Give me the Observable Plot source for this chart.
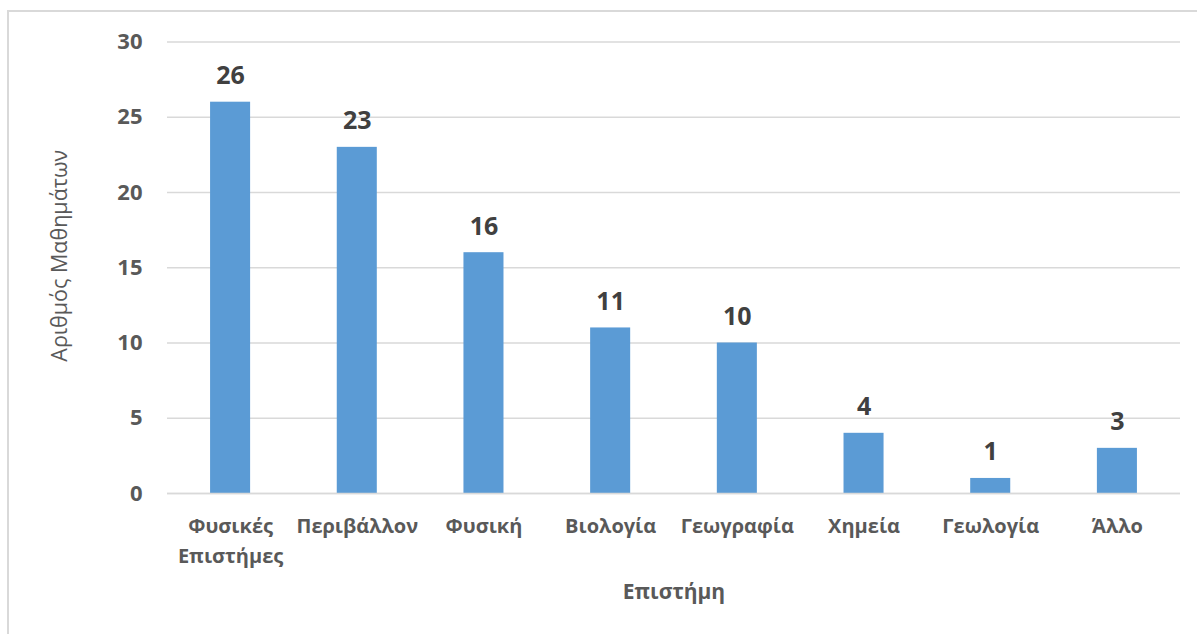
<!DOCTYPE html>
<html>
<head>
<meta charset="utf-8">
<script src="https://cdn.jsdelivr.net/npm/d3@7"></script>
<script src="https://cdn.jsdelivr.net/npm/@observablehq/plot@0.6"></script>
<style>
  html, body { margin: 0; padding: 0; background: #fff; width: 1197px; height: 634px; overflow: hidden; }
  #frame { position: absolute; left: 7px; top: 10px; width: 1200px; height: 640px; border-left: 2px solid #d9d9d9; border-top: 2px solid #d9d9d9; }
  #chart { position: absolute; left: 0; top: 0; }
  svg { font-family: "Open Sans", sans-serif; }
</style>
</head>
<body>
<div id="frame"></div>
<div id="chart"></div>
<script>
const categories = ["Φυσικές\nΕπιστήμες", "Περιβάλλον", "Φυσική", "Βιολογία", "Γεωγραφία", "Χημεία", "Γεωλογία", "Άλλο"];
const values = [26, 23, 16, 11, 10, 4, 1, 3];
const yTicks = [0, 5, 10, 15, 20, 25, 30];
const xTitle = "Επιστήμη";
const yTitle = "Αριθμός Μαθημάτων";

const data = categories.map((c, i) => ({category: c, value: values[i]}));

const chart = Plot.plot({
  width: 1197,
  height: 634,
  marginLeft: 167,
  marginRight: 17,
  marginTop: 41.5,
  marginBottom: 141,
  style: {background: "transparent", overflow: "visible"},
  x: {domain: categories, paddingInner: 0.684, paddingOuter: 0.34, round: false, label: null},
  y: {domain: [0, 30], label: null},
  marks: [
    Plot.gridY(yTicks, {stroke: "#d9d9d9", strokeOpacity: 1, strokeWidth: 1.5}),
    Plot.barY(data, {x: "category", y: "value", fill: "#5b9bd5"}),
    Plot.ruleY([0], {stroke: "#d9d9d9", strokeWidth: 1.5}),
    Plot.text(data, {x: "category", y: "value", text: d => String(d.value), dy: -26, fill: "#404040", fontSize: 25, fontWeight: "bold"}),
    Plot.axisY(yTicks, {tickSize: 0, tickPadding: 25, fontSize: 22, fontWeight: "bold", fill: "#595959", label: null}),
    Plot.axisX({tickSize: 0, tickPadding: 18, fontSize: 20, fontWeight: "bold", fill: "#595959", label: null, lineHeight: 1.5}),
    Plot.text([yTitle], {frameAnchor: "left", textAnchor: "middle", dx: -107, dy: -12, rotate: -90, fontSize: 21.5, fill: "#595959"}),
    Plot.text([xTitle], {frameAnchor: "bottom", dy: 105, fontSize: 21, fontWeight: "bold", fill: "#595959"})
  ]
});
document.getElementById("chart").appendChild(chart);
</script>
</body>
</html>
